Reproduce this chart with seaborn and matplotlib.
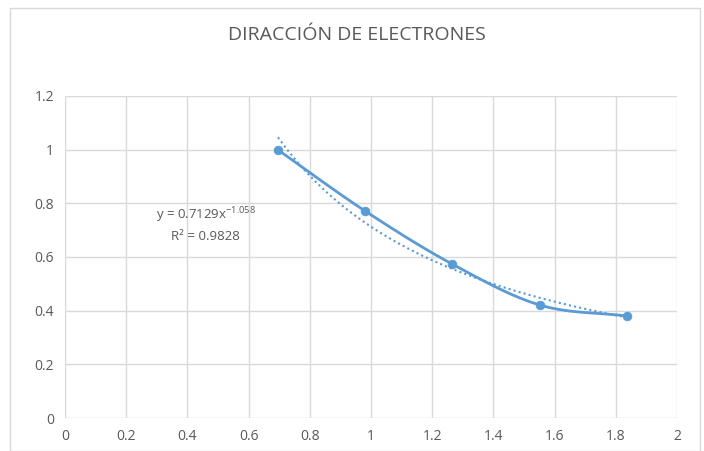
import numpy as np
import pandas as pd
import matplotlib
matplotlib.use("Agg")
import matplotlib.pyplot as plt
import seaborn as sns
from matplotlib.patches import Rectangle

# Data
x_vals = [0.696, 0.980, 1.265, 1.552, 1.837]
y_vals = [0.999, 0.772, 0.574, 0.421, 0.380]
fit_a = 0.7129
fit_b = -1.058
r2 = 0.9828
title = "DIRACCIÓN DE ELECTRONES"
x_ticks = [0, 0.2, 0.4, 0.6, 0.8, 1, 1.2, 1.4, 1.6, 1.8, 2]
y_ticks = [0, 0.2, 0.4, 0.6, 0.8, 1, 1.2]

sns.set_theme(style="white")
plt.rcParams['font.family'] = ['Liberation Sans Narrow', 'Open Sans', 'DejaVu Sans']
plt.rcParams['mathtext.fontset'] = 'custom'
plt.rcParams['mathtext.rm'] = 'Open Sans'
plt.rcParams['mathtext.it'] = 'Open Sans'
plt.rcParams['mathtext.default'] = 'regular'

color = "#5B9BD5"
gray = "#595959"

fig = plt.figure(figsize=(7.04, 4.51), dpi=100)
ax = fig.add_axes([65/704, 1 - 418/451, (677-65)/704, (418-96)/451])

# Excel-like smoothed line (Catmull-Rom spline through points)
def catmull_rom(xs, ys, n=30, t=0.5):
    P = np.column_stack([xs, ys])
    P = np.vstack([P[0] - (P[1]-P[0]), P, P[-1] + (P[-1]-P[-2])])
    out = []
    for i in range(1, len(P)-2):
        p0, p1, p2, p3 = P[i-1], P[i], P[i+1], P[i+2]
        m1 = t * (p2 - p0)
        m2 = t * (p3 - p1)
        s = np.linspace(0, 1, n, endpoint=(i == len(P)-3))
        h00 = 2*s**3 - 3*s**2 + 1
        h10 = s**3 - 2*s**2 + s
        h01 = -2*s**3 + 3*s**2
        h11 = s**3 - s**2
        seg = (h00[:, None]*p1 + h10[:, None]*m1 + h01[:, None]*p2 + h11[:, None]*m2)
        out.append(seg)
    return np.vstack(out)

sm = catmull_rom(x_vals, y_vals)
smooth_df = pd.DataFrame({"x": sm[:, 0], "y": sm[:, 1]})
sns.lineplot(data=smooth_df, x="x", y="y", sort=False, ax=ax, color=color, linewidth=2.0, zorder=3)

pts_df = pd.DataFrame({"x": x_vals, "y": y_vals})
sns.scatterplot(data=pts_df, x="x", y="y", ax=ax, color=color, s=40, edgecolor=color, zorder=4)

# Power trendline
xf = np.linspace(min(x_vals), max(x_vals), 200)
fit_df = pd.DataFrame({"x": xf, "y": fit_a * xf ** fit_b})
sns.lineplot(data=fit_df, x="x", y="y", ax=ax, color=color, linewidth=1.5, linestyle=(0, (1, 1.5)), zorder=2)

ax.set_xlim(0, 2)
ax.set_ylim(0, 1.2)
ax.set_xticks(x_ticks)
ax.set_yticks(y_ticks)
ax.set_xticklabels([f"{v:g}" for v in x_ticks])
ax.set_yticklabels([f"{v:g}" for v in y_ticks])
ax.grid(True, color="#D9D9D9", linewidth=1)
for s in ax.spines.values():
    s.set_visible(False)
ax.tick_params(axis='both', colors=gray, labelsize=10, length=0, pad=8)
ax.set_xlabel("")
ax.set_ylabel("")

ax.text(0.46, 0.757, "y = 0.7129x$^{-1.058}$", ha="center", va="center", fontsize=9.5, color=gray)
ax.text(0.46, 0.678, "R² = 0.9828", ha="center", va="center", fontsize=9.5, color=gray)

fig.text(357/704, 1 - 35/451, title, ha="center", va="center", fontsize=14, color=gray)

# chart border
fig.patches.append(Rectangle((10/704, 0), 690/704, 1 - 8/451, transform=fig.transFigure,
                             fill=False, edgecolor="#D9D9D9", linewidth=1))

fig.savefig("out.png", dpi=100)
